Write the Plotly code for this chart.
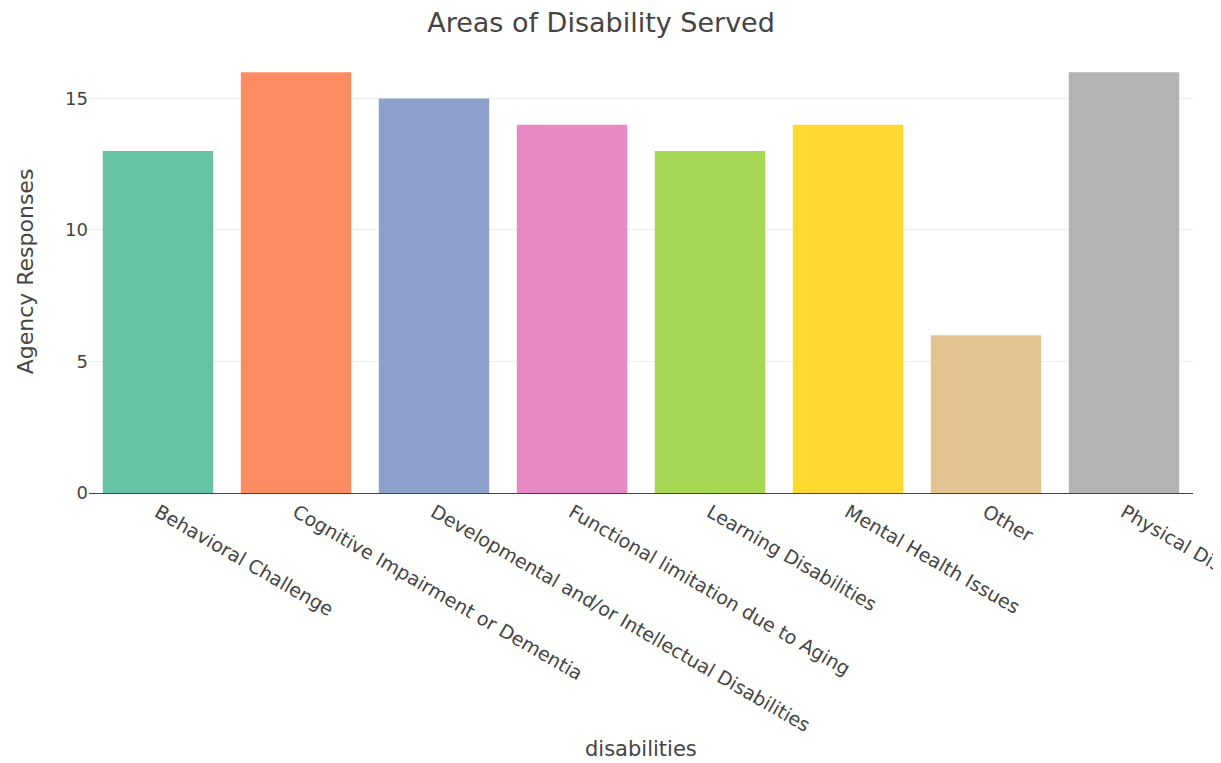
import plotly.graph_objects as go

categories = ["Behavioral Challenge", "Cognitive Impairment or Dementia",
              "Developmental and/or Intellectual Disabilities",
              "Functional limitation due to Aging", "Learning Disabilities",
              "Mental Health Issues", "Other", "Physical Disabilities"]
values = [13, 16, 15, 14, 13, 14, 6, 16]
colors = ["#66c2a5", "#fc8d62", "#8da0cb", "#e78ac3", "#a6d854", "#ffd92f", "#e5c494", "#b3b3b3"]

FONT = "Verdana, DejaVu Sans, sans-serif"

fig = go.Figure(go.Bar(x=categories, y=values, marker=dict(color=colors, line=dict(width=0))))

fig.update_layout(
    width=1221, height=763,
    margin=dict(l=81, r=36, t=42, b=278, autoexpand=False),
    paper_bgcolor="white", plot_bgcolor="white",
    font=dict(family=FONT, color="#444", size=18),
    title=dict(text="Areas of Disability Served", x=0.4857, xanchor="center", y=0.9805, yanchor="middle",
               font=dict(size=27, family=FONT)),
    bargap=0.2,
    showlegend=False,
    xaxis=dict(tickangle=30, automargin=False,
               showline=True, linecolor="#444", linewidth=1, tickfont=dict(size=19)),
    yaxis=dict(title=dict(text="Agency Responses", font=dict(size=22), standoff=25), showgrid=True, gridcolor="#eee",
               automargin=False, zeroline=False, dtick=5, tickfont=dict(size=18), ticks="", ticklen=0),
    annotations=[dict(text="disabilities", xref="paper", yref="paper", x=0.5, y=-0.578,
                      xanchor="center", yanchor="middle", showarrow=False,
                      font=dict(size=21, family=FONT, color="#444"))],
)

fig.write_html("out.html")
